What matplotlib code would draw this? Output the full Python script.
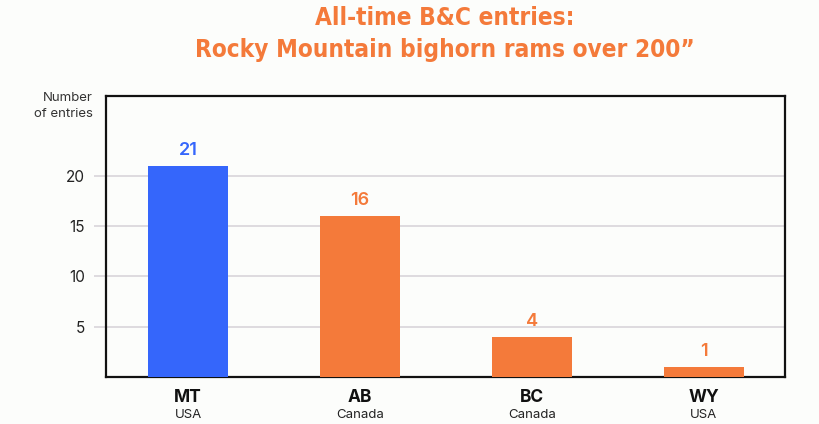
import matplotlib
matplotlib.use("Agg")
import matplotlib.pyplot as plt
import matplotlib.transforms as mtransforms
from matplotlib import font_manager

# Data
regions = ["MT", "AB", "BC", "WY"]
countries = ["USA", "Canada", "Canada", "USA"]
entries = [21, 16, 4, 1]
bar_colors = ["#3566fb", "#f47a3a", "#f47a3a", "#f47a3a"]
yticks = [5, 10, 15, 20]

plt.rcParams['font.family'] = ['Inter', 'DejaVu Sans']
bg = "#fcfdfb"
orange = "#f47a3a"


def pick_title_font():
    # look for a narrow / condensed bold face for the headline
    cands = []
    for f in font_manager.fontManager.ttflist:
        name = (f.name + " " + f.fname).lower()
        narrow = "narrow" in name or "condensed" in name or "cond" in f.fname.lower()
        if not narrow:
            continue
        w = f.weight if isinstance(f.weight, int) else 700 if "bold" in str(f.weight) else 400
        bold = w >= 600 or "bold" in f.fname.lower()
        italic = "italic" in f.fname.lower() or "oblique" in f.fname.lower() or f.style != "normal"
        if italic:
            continue
        cands.append((0 if bold else 1, 0 if "liberation" in name else 1, f.fname))
    if cands:
        cands.sort()
        return font_manager.FontProperties(fname=cands[0][2], size=17.5)
    return font_manager.FontProperties(family="DejaVu Sans", weight="bold", size=16)


fig = plt.figure(figsize=(8.2, 4.24), dpi=100, facecolor=bg)
ax = fig.add_axes([0.1293, 0.1116, 0.8277, 0.6627], facecolor=bg)

x = list(range(len(regions)))
ax.bar(x, entries, width=0.47, color=bar_colors, zorder=3)

for xi, v, c in zip(x, entries, bar_colors):
    ax.annotate(str(v), (xi, v), xytext=(0, 5), textcoords="offset points",
                ha="center", va="bottom", fontsize=13, fontweight="semibold",
                color=c)

ax.set_xlim(-0.477, 3.47)
ax.set_ylim(0, 28)
ax.set_yticks(yticks)
ax.set_yticklabels([str(t) for t in yticks], fontsize=11, color="#222222")
ax.yaxis.grid(True, color="#dbd8dd", linewidth=1.3, zorder=0)
ax.tick_params(axis="y", length=9, width=1.3, color="#dbd8dd", pad=6)

ax.set_xticks(x)
ax.set_xticklabels(regions, fontsize=12.5, fontweight="bold", color="#111111")
ax.tick_params(axis="x", length=0, pad=9)

trans = mtransforms.blended_transform_factory(ax.transData, fig.transFigure)
for xi, c in zip(x, countries):
    ax.text(xi, 1 - 415 / 424, c, transform=trans, ha="center", va="center",
            fontsize=9.5, color="#222222")

for s in ax.spines.values():
    s.set_color("#111111")
    s.set_linewidth(1.6)

fig.text(93 / 820, 1 - 98 / 424, "Number", ha="right", va="center",
         fontsize=9.5, color="#333333")
fig.text(93 / 820, 1 - 114 / 424, "of entries", ha="right", va="center",
         fontsize=9.5, color="#333333")

tp = pick_title_font()
fig.text(445 / 820, 1 - 18 / 424, "All-time B&C entries:", ha="center",
         va="center", fontproperties=tp, color=orange)
fig.text(445 / 820, 1 - 50 / 424, "Rocky Mountain bighorn rams over 200\u201d",
         ha="center", va="center", fontproperties=tp, color=orange)

fig.savefig("out.png", dpi=100, facecolor=bg)
